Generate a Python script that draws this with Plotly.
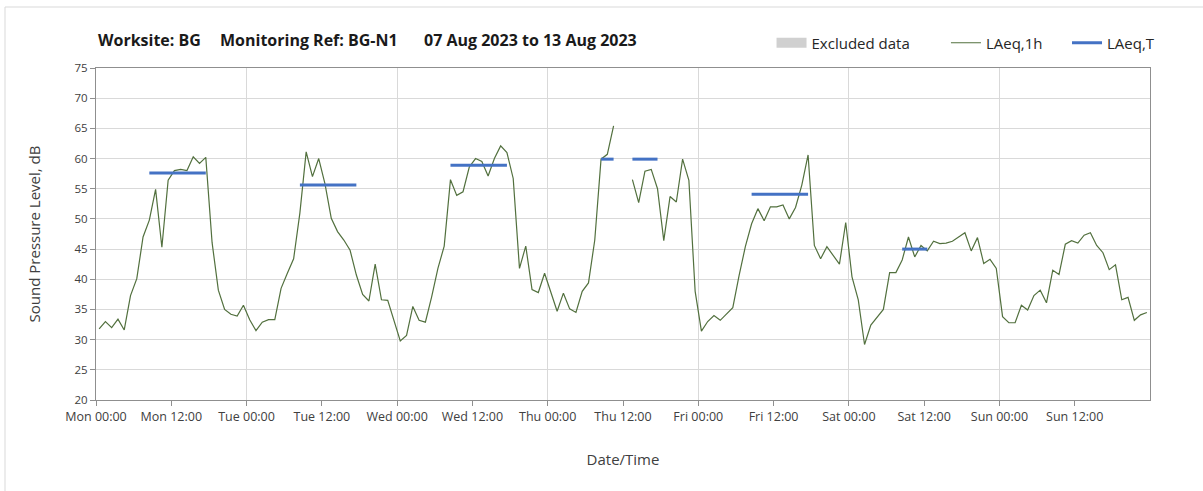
import pandas as pd
import plotly.graph_objects as go

# ---------------- data ----------------
start = "2023-08-07 00:00"
n_hours = 168

laeq_1h = [
    # Mon
    31.8, 33.0, 32.0, 33.4, 31.6, 37.3, 40.1, 47.0, 49.8, 54.9, 45.3, 56.4,
    58.0, 58.2, 58.0, 60.3, 59.2, 60.2, 46.1, 38.2, 35.0, 34.2, 33.9, 35.7,
    # Tue
    33.3, 31.5, 32.9, 33.3, 33.3, 38.5, 41.0, 43.4, 51.0, 61.1, 57.0, 60.0,
    55.8, 50.1, 47.9, 46.5, 44.8, 40.7, 37.5, 36.4, 42.5, 36.6, 36.5, 33.2,
    # Wed
    29.8, 30.7, 35.5, 33.2, 32.9, 37.1, 41.8, 45.5, 56.5, 53.9, 54.5, 58.6,
    60.0, 59.5, 57.1, 60.0, 62.1, 61.0, 56.7, 41.8, 45.5, 38.3, 37.8, 41.0,
    # Thu
    37.9, 34.7, 37.7, 35.1, 34.5, 38.0, 39.4, 46.5, 59.9, 60.7, 65.4, None,
    None, 56.5, 52.7, 57.9, 58.2, 55.0, 46.4, 53.7, 52.8, 59.9, 56.4, 38.0,
    # Fri
    31.4, 33.0, 34.0, 33.2, 34.3, 35.3, 40.6, 45.4, 49.2, 51.7, 49.7, 52.0,
    52.0, 52.3, 50.0, 51.9, 55.6, 60.6, 45.6, 43.4, 45.4, 44.0, 42.5, 49.4,
    # Sat
    40.4, 36.6, 29.2, 32.4, 33.7, 35.0, 41.1, 41.1, 43.2, 47.0, 43.7, 45.6,
    44.7, 46.3, 45.9, 46.0, 46.3, 47.0, 47.7, 44.7, 46.9, 42.6, 43.3, 41.8,
    # Sun
    33.8, 32.8, 32.8, 35.7, 34.9, 37.3, 38.2, 36.1, 41.5, 40.8, 45.8, 46.4,
    46.0, 47.3, 47.7, 45.6, 44.4, 41.6, 42.4, 36.6, 37.0, 33.2, 34.1, 34.5,
]

# LAeq,T periods (first and last hour of each period, value)
laeq_t_first = ["2023-08-07 08:00", "2023-08-08 08:00", "2023-08-09 08:00",
                "2023-08-10 08:00", "2023-08-10 13:00", "2023-08-11 08:00",
                "2023-08-12 08:00"]
laeq_t_last = ["2023-08-07 17:00", "2023-08-08 17:00", "2023-08-09 17:00",
               "2023-08-10 10:00", "2023-08-10 17:00", "2023-08-11 17:00",
               "2023-08-12 12:00"]
laeq_t_value = [57.6, 55.6, 58.9, 59.9, 59.9, 54.1, 45.0]

# excluded data (none shown in this period)
excluded = [None] * n_hours

tick_labels = ["Mon 00:00", "Mon 12:00", "Tue 00:00", "Tue 12:00",
               "Wed 00:00", "Wed 12:00", "Thu 00:00", "Thu 12:00",
               "Fri 00:00", "Fri 12:00", "Sat 00:00", "Sat 12:00",
               "Sun 00:00", "Sun 12:00"]

title_parts = ["Worksite: BG", "Monitoring Ref: BG-N1", "07 Aug 2023 to 13 Aug 2023"]
series_names = ["Excluded data", "LAeq,1h", "LAeq,T"]

# ---------------- build ----------------
hour_start = pd.date_range(start, periods=n_hours, freq="h")
x_mid = hour_start + pd.Timedelta(minutes=30)
range_end = hour_start[0] + pd.Timedelta(days=7)

laeq_t = [None] * n_hours
for a, b, v in zip(laeq_t_first, laeq_t_last, laeq_t_value):
    for i, t in enumerate(hour_start):
        if pd.Timestamp(a) <= t <= pd.Timestamp(b):
            laeq_t[i] = v

tickvals = pd.date_range(start, periods=len(tick_labels), freq="12h")

GREEN = "#52703e"
BLUE = "#4472c4"
GRID = "#d9d9d9"
AXIS = "#8f8f8f"
TXT = "#404040"
FONT = "Open Sans"

fig = go.Figure()
fig.add_trace(go.Scatter(
    x=x_mid, y=excluded, name=series_names[0] + "\u00a0" * 8, mode="lines",
    line=dict(color="#d0d0d0", width=10), connectgaps=False,
))
fig.add_trace(go.Scatter(
    x=x_mid, y=laeq_1h, name=series_names[1] + "\u00a0" * 5, mode="lines",
    line=dict(color=GREEN, width=1.2), connectgaps=False,
))
fig.add_trace(go.Scatter(
    x=x_mid, y=laeq_t, name=series_names[2], mode="lines", xaxis="x2",
    line=dict(color=BLUE, width=3), connectgaps=False,
))

fig.update_layout(
    width=1203, height=491,
    margin=dict(l=96, r=53, t=68, b=91, autoexpand=False),
    paper_bgcolor="white", plot_bgcolor="white",
    font=dict(family=FONT, color=TXT),
    showlegend=True,
    legend=dict(orientation="h", x=1.010, xanchor="right",
                y=1 - 43 / 491, yref="container", yanchor="middle",
                font=dict(size=15, color="#262626"),
                bgcolor="rgba(0,0,0,0)", itemwidth=30),
    xaxis=dict(
        type="date", range=[hour_start[0], range_end],
        tickvals=tickvals, ticktext=tick_labels,
        ticks="outside", ticklen=5, tickcolor=AXIS,
        showgrid=False, showline=True, linecolor=AXIS, mirror=True,
        tickfont=dict(size=12.5, color=TXT),
        title=dict(text="Date/Time", font=dict(size=15, color=TXT), standoff=30),
    ),
    xaxis2=dict(
        type="date", overlaying="x", matches="x", range=[hour_start[0], range_end],
        tick0=hour_start[0], dtick=86400000,
        showgrid=True, gridcolor=GRID, gridwidth=1,
        showticklabels=False, ticks="", showline=False, zeroline=False,
    ),
    yaxis=dict(
        range=[20, 75], dtick=5, tick0=20,
        ticks="outside", ticklen=5, tickcolor=AXIS,
        showgrid=True, gridcolor=GRID, gridwidth=1,
        showline=True, linecolor=AXIS, mirror=True, zeroline=False,
        tickfont=dict(size=11.5, color=TXT),
        title=dict(text="Sound Pressure Level, dB", font=dict(size=15, color=TXT), standoff=30),
    ),
)

# title pieces
title_x_px = [96, 218, 422]
for txt, px in zip(title_parts, title_x_px):
    fig.add_annotation(
        text=f"<b>{txt}</b>", xref="paper", yref="paper",
        x=(px - 96) / 1054, y=(400 - 40) / 332, xanchor="left", yanchor="middle",
        showarrow=False, font=dict(size=16, color="#1a1a1a", family=FONT),
    )

# outer chart-area border
fig.add_shape(type="rect", xref="paper", yref="paper",
              x0=(5 - 96) / 1054, x1=1.2, y0=-0.5, y1=(400 - 7) / 332,
              line=dict(color=GRID, width=1), fillcolor="rgba(0,0,0,0)", layer="below")

fig.write_html("out.html", config={"displayModeBar": False},
               post_script="document.body.style.margin='0px';")
